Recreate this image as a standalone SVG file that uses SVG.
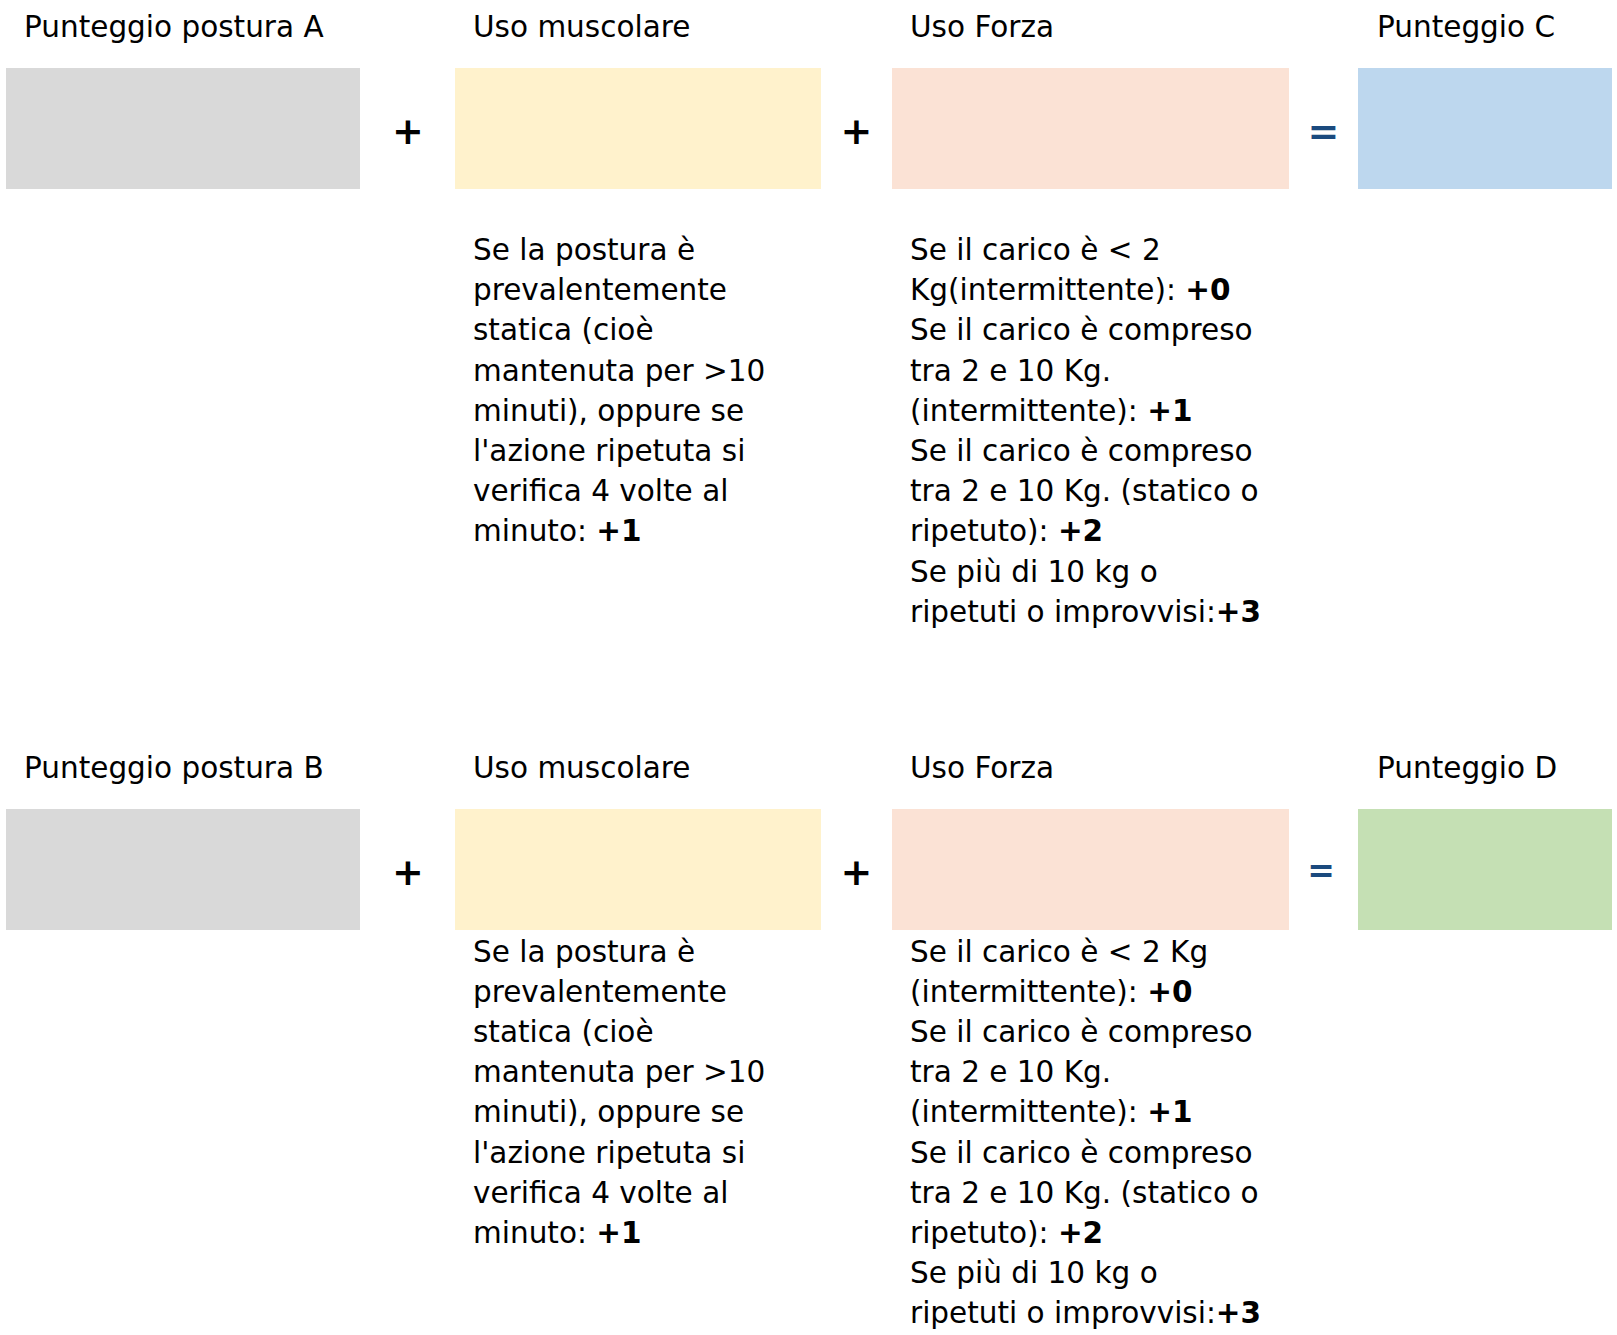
<svg xmlns="http://www.w3.org/2000/svg" width="1617" height="1335" viewBox="0 0 1617 1335">
<style>
text{font-family:"DejaVu Sans","Verdana",sans-serif;fill:#000}
.t{font-size:29.5px}
.b{font-weight:bold}
.op{font-size:38px;font-weight:bold;text-anchor:middle}
.eq{fill:#1B4A7E}
.gray{fill:#D9D9D9}.yel{fill:#FFF2CC}.sal{fill:#FBE2D5}.blu{fill:#BDD7EE}.grn{fill:#C5E0B4}
</style>
<rect width="1617" height="1335" fill="#fff"/>
<g id="row1">
<g id="postura-a"><text class="t" x="24" y="37">Punteggio postura A</text><rect class="gray" x="6" y="68" width="354" height="121"/></g>
<g id="muscolare-1"><text class="t" x="473" y="37">Uso muscolare</text><rect class="yel" x="455" y="68" width="366" height="121"/>
<text class="t" x="473" y="260">
<tspan x="473" dy="0">Se la postura è</tspan>
<tspan x="473" dy="40.2">prevalentemente</tspan>
<tspan x="473" dy="40.2">statica (cioè</tspan>
<tspan x="473" dy="40.2">mantenuta per &gt;10</tspan>
<tspan x="473" dy="40.2">minuti), oppure se</tspan>
<tspan x="473" dy="40.2">l'azione ripetuta si</tspan>
<tspan x="473" dy="40.2">verifica 4 volte al</tspan>
<tspan x="473" dy="40.2">minuto: <tspan class="b">+1</tspan></tspan>
</text></g>
<g id="forza-1"><text class="t" x="910" y="37">Uso Forza</text><rect class="sal" x="892" y="68" width="397" height="121"/>
<text class="t" x="910" y="260">
<tspan x="910" dy="0">Se il carico è &lt; 2</tspan>
<tspan x="910" dy="40.2">Kg(intermittente): <tspan class="b">+0</tspan></tspan>
<tspan x="910" dy="40.2">Se il carico è compreso</tspan>
<tspan x="910" dy="40.2">tra 2 e 10 Kg.</tspan>
<tspan x="910" dy="40.2">(intermittente): <tspan class="b">+1</tspan></tspan>
<tspan x="910" dy="40.2">Se il carico è compreso</tspan>
<tspan x="910" dy="40.2">tra 2 e 10 Kg. (statico o</tspan>
<tspan x="910" dy="40.2">ripetuto): <tspan class="b">+2</tspan></tspan>
<tspan x="910" dy="40.2">Se più di 10 kg o</tspan>
<tspan x="910" dy="40.2">ripetuti o improvvisi:<tspan class="b">+3</tspan></tspan>
</text></g>
<g id="punteggio-c"><text class="t" x="1377" y="37">Punteggio C</text><rect class="blu" x="1358" y="68" width="254" height="121"/></g>
</g>
<g id="row2">
<g id="postura-b"><text class="t" x="24" y="778">Punteggio postura B</text><rect class="gray" x="6" y="809" width="354" height="121"/></g>
<g id="muscolare-2"><text class="t" x="473" y="778">Uso muscolare</text><rect class="yel" x="455" y="809" width="366" height="121"/>
<text class="t" x="473" y="961.5">
<tspan x="473" dy="0">Se la postura è</tspan>
<tspan x="473" dy="40.2">prevalentemente</tspan>
<tspan x="473" dy="40.2">statica (cioè</tspan>
<tspan x="473" dy="40.2">mantenuta per &gt;10</tspan>
<tspan x="473" dy="40.2">minuti), oppure se</tspan>
<tspan x="473" dy="40.2">l'azione ripetuta si</tspan>
<tspan x="473" dy="40.2">verifica 4 volte al</tspan>
<tspan x="473" dy="40.2">minuto: <tspan class="b">+1</tspan></tspan>
</text></g>
<g id="forza-2"><text class="t" x="910" y="778">Uso Forza</text><rect class="sal" x="892" y="809" width="397" height="121"/>
<text class="t" x="910" y="961.5">
<tspan x="910" dy="0">Se il carico è &lt; 2 Kg</tspan>
<tspan x="910" dy="40.2">(intermittente): <tspan class="b">+0</tspan></tspan>
<tspan x="910" dy="40.2">Se il carico è compreso</tspan>
<tspan x="910" dy="40.2">tra 2 e 10 Kg.</tspan>
<tspan x="910" dy="40.2">(intermittente): <tspan class="b">+1</tspan></tspan>
<tspan x="910" dy="40.2">Se il carico è compreso</tspan>
<tspan x="910" dy="40.2">tra 2 e 10 Kg. (statico o</tspan>
<tspan x="910" dy="40.2">ripetuto): <tspan class="b">+2</tspan></tspan>
<tspan x="910" dy="40.2">Se più di 10 kg o</tspan>
<tspan x="910" dy="40.2">ripetuti o improvvisi:<tspan class="b">+3</tspan></tspan>
</text></g>
<g id="punteggio-d"><text class="t" x="1377" y="778">Punteggio D</text><rect class="grn" x="1358" y="809" width="254" height="121"/></g>
</g>
<g id="connectors">
<text class="op" x="408" y="144">+</text>
<text class="op" x="856.5" y="144">+</text>
<text class="op eq" x="1323.5" y="144">=</text>
<text class="op" x="408" y="885">+</text>
<text class="op" x="856.5" y="885">+</text>
<text class="op eq" x="1321" y="882" style="font-size:33px">=</text>
</g>
</svg>
